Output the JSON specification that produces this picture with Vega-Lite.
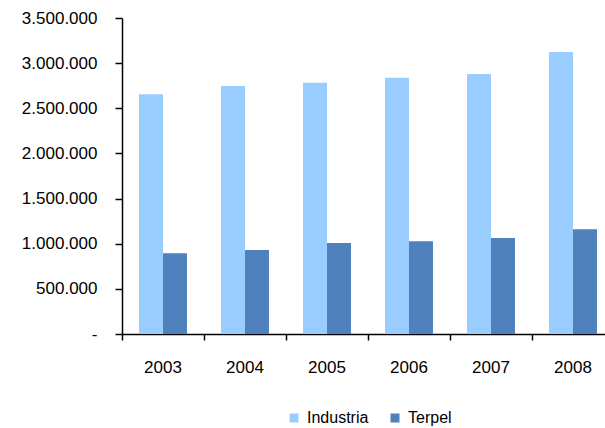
{
  "$schema": "https://vega.github.io/schema/vega-lite/v6.json",
  "width": 492,
  "height": 316,
  "autosize": {"type": "none"},
  "padding": {"left": 122, "top": 18, "right": 0, "bottom": 94},
  "background": "white",
  "config": {
    "view": {"stroke": null},
    "font": "Liberation Sans",
    "axis": {"grid": false, "domainColor": "black", "tickColor": "black", "labelColor": "black", "labelFont": "Liberation Sans", "labelFontSize": 17, "domainWidth": 1.5, "tickWidth": 1.5}
  },
  "data": {
    "values": [
      {"year": "2003", "serie": "Industria", "value": 2655000},
      {"year": "2003", "serie": "Terpel", "value": 894000},
      {"year": "2004", "serie": "Industria", "value": 2747000},
      {"year": "2004", "serie": "Terpel", "value": 930000},
      {"year": "2005", "serie": "Industria", "value": 2784000},
      {"year": "2005", "serie": "Terpel", "value": 1008000},
      {"year": "2006", "serie": "Industria", "value": 2839000},
      {"year": "2006", "serie": "Terpel", "value": 1026000},
      {"year": "2007", "serie": "Industria", "value": 2880000},
      {"year": "2007", "serie": "Terpel", "value": 1063000},
      {"year": "2008", "serie": "Industria", "value": 3123000},
      {"year": "2008", "serie": "Terpel", "value": 1159000}
    ]
  },
  "mark": {"type": "bar"},
  "encoding": {
    "x": {
      "field": "year",
      "type": "nominal",
      "scale": {"paddingInner": 0, "paddingOuter": 0},
      "axis": {"title": null, "labelAngle": 0, "bandPosition": 0, "tickSize": 6, "labelPadding": 19, "labelBound": false, "labelOverlap": false}
    },
    "xOffset": {
      "field": "serie",
      "type": "nominal",
      "scale": {"paddingInner": 0, "paddingOuter": 0.71}
    },
    "y": {
      "field": "value",
      "type": "quantitative",
      "scale": {"domain": [0, 3500000], "nice": false, "zero": true},
      "axis": {
        "title": null,
        "values": [0, 500000, 1000000, 1500000, 2000000, 2500000, 3000000, 3500000],
        "labelExpr": "datum.value == 0 ? '-' : replace(format(datum.value, ','), regexp(',', 'g'), '.')",
        "tickSize": 7,
        "labelPadding": 18
      }
    },
    "color": {
      "field": "serie",
      "type": "nominal",
      "scale": {"domain": ["Industria", "Terpel"], "range": ["#99CCFF", "#4F81BD"]},
      "legend": {
        "title": null,
        "orient": "none",
        "direction": "horizontal",
        "legendX": 164,
        "legendY": 392,
        "symbolType": "square",
        "symbolSize": 81,
        "symbolStrokeWidth": 0,
        "labelFontSize": 16,
        "labelFont": "Liberation Sans",
        "labelColor": "black",
        "labelOffset": 5,
        "columnPadding": 18
      }
    }
  }
}
